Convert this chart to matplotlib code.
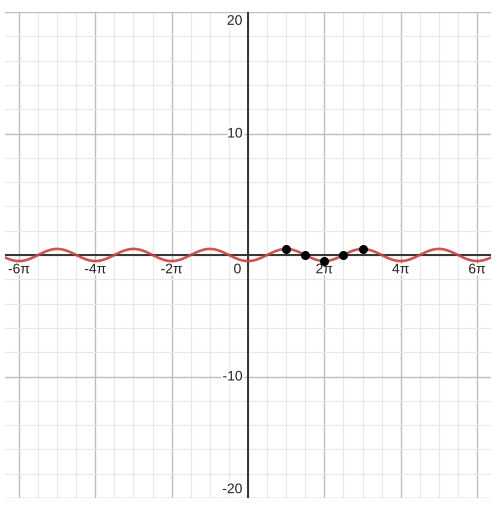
import numpy as np
import matplotlib
matplotlib.use("Agg")
import matplotlib.pyplot as plt
import matplotlib.patheffects as pe

plt.rcParams['font.family'] = ['Liberation Sans', 'DejaVu Sans']

# Data
amplitude = 0.5          # y = -amplitude * cos(x)
point_x = [np.pi, 1.5 * np.pi, 2 * np.pi, 2.5 * np.pi, 3 * np.pi]
point_y = [0.5, 0.0, -0.5, 0.0, 0.5]
x_tick_vals = [-6 * np.pi, -4 * np.pi, -2 * np.pi, 2 * np.pi, 4 * np.pi, 6 * np.pi]
x_tick_labels = ["-6π", "-4π", "-2π", "2π", "4π", "6π"]
y_tick_vals = [-20, -10, 10, 20]
y_tick_labels = ["-20", "-10", "10", "20"]

fig = plt.figure(figsize=(5.0, 5.07), dpi=100)
ax = fig.add_axes([5 / 500, (507 - 498) / 507, 486 / 500, 486 / 507])
ax.set_xlim(-20, 20)
ax.set_ylim(-20, 20)
for s in ax.spines.values():
    s.set_visible(False)
ax.set_xticks([])
ax.set_yticks([])

# grid
k = np.arange(-20, 21)
for v in k * np.pi / 2:
    if -20 <= v <= 20:
        major = abs((v / (2 * np.pi)) - round(v / (2 * np.pi))) < 1e-9
        ax.axvline(v, color="#bdbdbd" if major else "#e8e8e8",
                   lw=1.0 if major else 0.8, zorder=1)
for v in range(-20, 21, 2):
    major = v % 10 == 0
    ax.axhline(v, color="#bdbdbd" if major else "#e8e8e8",
               lw=1.0 if major else 0.8, zorder=1)

# axes
ax.axhline(0, color="#333333", lw=1.4, zorder=2)
ax.axvline(0, color="#333333", lw=1.4, zorder=2)

outline = [pe.withStroke(linewidth=3, foreground="white")]
# x labels
for v, t in zip(x_tick_vals, x_tick_labels):
    ax.text(v, -0.6, t, ha="center", va="top", fontsize=10, color="#222222",
            path_effects=outline, zorder=3)
ax.text(-0.55, -0.6, "0", ha="right", va="top", fontsize=10, color="#222222",
        path_effects=outline, zorder=3)
# y labels
for v, t in zip(y_tick_vals, y_tick_labels):
    yy = v
    va = "center"
    if v == 20:
        va = "top"; yy = 19.85
    if v == -20:
        va = "bottom"; yy = -19.85
    ax.text(-0.45, yy, t, ha="right", va=va, fontsize=10, color="#222222",
            path_effects=outline, zorder=3)

# curve
xs = np.linspace(-20, 20, 2000)
ax.plot(xs, -amplitude * np.cos(xs), color="#c74440", lw=1.9, zorder=4,
        solid_capstyle="round", alpha=0.9)
ax.scatter(point_x, point_y, s=30, color="black", zorder=5)

fig.savefig("out.png", dpi=100)
